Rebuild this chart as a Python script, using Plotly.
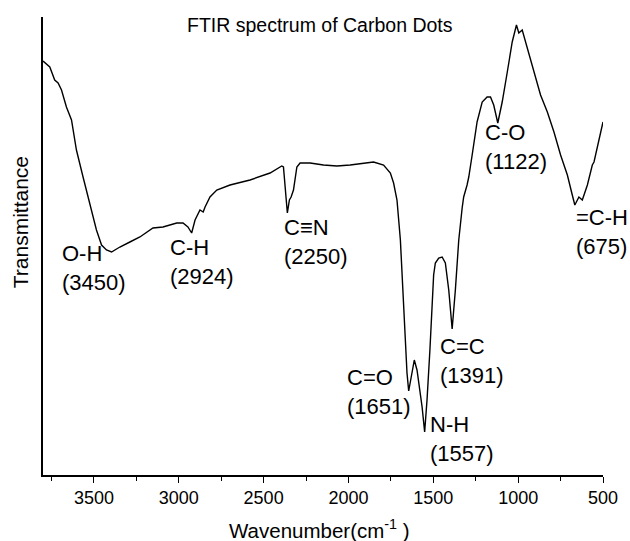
import plotly.graph_objects as go

# Wavenumber (cm^-1) and transmittance (a.u.)
wavenumber = [3800, 3760, 3731, 3711, 3691, 3662, 3632, 3603, 3564, 3524,
              3485, 3455, 3426, 3396, 3347, 3288, 3229, 3152, 3093, 3012,
              2975, 2946, 2924, 2904, 2875, 2856, 2845, 2816, 2776, 2698,
              2580, 2462, 2393, 2383, 2373, 2360, 2348, 2338, 2324, 2304,
              2285, 2226, 2147, 2068, 1990, 1911, 1852, 1793, 1753, 1734,
              1714, 1694, 1675, 1655, 1645, 1625, 1612, 1596, 1566, 1551,
              1537, 1520, 1505, 1498, 1488, 1468, 1448, 1429, 1409, 1389,
              1370, 1350, 1330, 1321, 1301, 1291, 1271, 1242, 1212, 1183,
              1163, 1144, 1120, 1094, 1064, 1035, 1010, 996, 976, 956,
              937, 907, 868, 828, 789, 750, 710, 681, 666, 642,
              622, 592, 563, 553, 533, 500]
transmittance = [414, 408, 395, 392, 385, 368, 355, 325, 298, 272,
                 245, 230, 225, 223, 228, 233, 238, 247, 248, 252,
                 252, 248, 242, 255, 265, 263, 268, 278, 285, 290,
                 295, 302, 309, 308, 285, 262, 275, 278, 285, 308,
                 312, 312, 310, 309, 310, 312, 313, 310, 302, 292,
                 275, 235, 168, 102, 84, 105, 115, 105, 68, 43,
                 75, 125, 175, 200, 212, 217, 218, 212, 185, 146,
                 185, 235, 267, 278, 290, 298, 320, 353, 373, 378,
                 378, 370, 352, 373, 403, 433, 450, 442, 445, 433,
                 420, 403, 380, 363, 343, 320, 300, 280, 270, 278,
                 275, 290, 310, 313, 327, 353]

# Band labels and where their text sits (wavenumber, transmittance)
band_names = ["O-H", "C-H", "C\u2261N", "C=O", "N-H", "C=C", "C-O", "=C-H"]
band_values = ["3450", "2924", "2250", "1651", "1557", "1391", "1122", "675"]
label_x = [3701, 3064, 2391, 2019, 1529, 1470, 1210, 668]
label_y = [207, 213, 233, 83, 36, 114, 328, 243]

tick_vals = [3500, 3000, 2500, 2000, 1500, 1000, 500]
tick_text = [str(v) for v in tick_vals]

FONT = "Liberation Sans, Arial, sans-serif"

fig = go.Figure()
fig.add_trace(go.Scatter(x=wavenumber, y=transmittance, mode="lines",
                         line=dict(color="black", width=1.4),
                         showlegend=False, hoverinfo="skip"))

annotations = []
for name, val, lx, ly in zip(band_names, band_values, label_x, label_y):
    annotations.append(dict(x=lx, y=ly, xref="x", yref="y",
                            text=f"{name}<br>({val})", showarrow=False,
                            xanchor="left", yanchor="middle", align="left",
                            font=dict(family=FONT, size=22, color="black")))

annotations.append(dict(x=0.495, y=0.9825, xref="paper", yref="paper",
                        text="FTIR spectrum of Carbon Dots", showarrow=False,
                        xanchor="center", yanchor="middle",
                        font=dict(family=FONT, size=19.5, color="black")))
annotations.append(dict(x=-0.041, y=0.552, xref="paper", yref="paper",
                        text="Transmittance", showarrow=False, textangle=-90,
                        xanchor="center", yanchor="middle",
                        font=dict(family=FONT, size=21, color="black")))
annotations.append(dict(x=0.493, y=-0.117, xref="paper", yref="paper",
                        text="Wavenumber(cm<sup>-1</sup> )", showarrow=False,
                        xanchor="center", yanchor="middle",
                        font=dict(family=FONT, size=20.5, color="black")))

fig.update_layout(
    width=630, height=541,
    margin=dict(l=43, r=27, t=17, b=66),
    paper_bgcolor="white", plot_bgcolor="white",
    annotations=annotations,
    font=dict(family=FONT, color="black"),
    xaxis=dict(range=[3800, 500], showgrid=False, zeroline=False,
               showline=True, linecolor="black", linewidth=1.6,
               ticks="outside", ticklen=6, tickwidth=1.4, tickcolor="black",
               tickvals=tick_vals, ticktext=tick_text,
               tickfont=dict(family=FONT, size=18, color="black"),
               minor=dict(ticks="outside", ticklen=4, tickwidth=1.2,
                          tickcolor="black", dtick=250, tick0=500,
                          showgrid=False)),
    yaxis=dict(range=[0, 458], showgrid=False, zeroline=False,
               showline=True, linecolor="black", linewidth=1.6,
               showticklabels=False, ticks=""),
)

fig.write_html("out.html")
